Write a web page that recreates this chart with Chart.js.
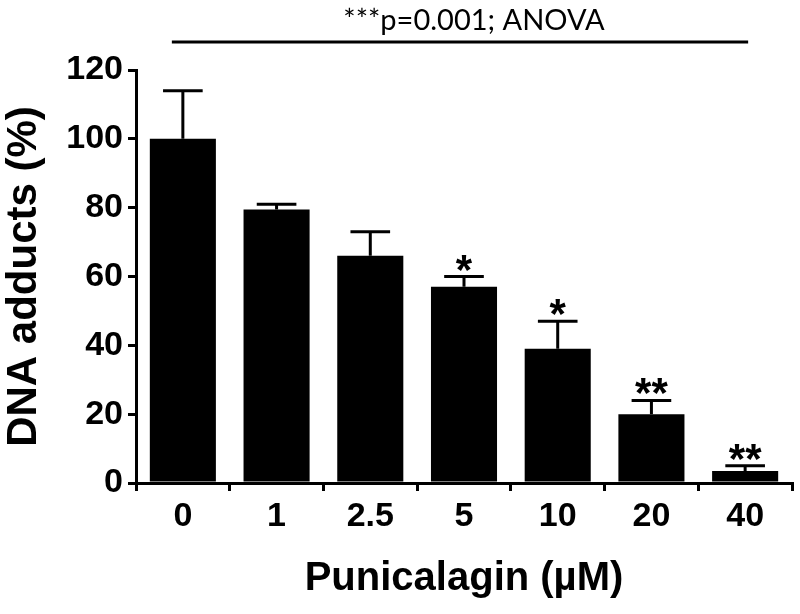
<!DOCTYPE html>
<html>
<head>
<meta charset="utf-8">
<script src="https://cdn.jsdelivr.net/npm/chart.js@4.4.1/dist/chart.umd.min.js"></script>
<style>
html, body { margin: 0; padding: 0; background: #fff; }
#wrap { width: 800px; height: 614px; }
</style>
</head>
<body>
<div id="wrap"><canvas id="grafico" width="800" height="614"></canvas></div>
<script>
var dosis = ['0', '1', '2.5', '5', '10', '20', '40'];
var aductos = [100, 79.5, 66, 57, 39, 20, 3.5];
var errores = [14, 1.5, 7, 3, 8, 4, 1.5];
var estrellas = ['', '', '', '*', '*', '**', '**'];
var textoAnova = '***p=0.001; ANOVA';

// barras de error, asteriscos y la linea del ANOVA
var extras = {
    id: 'extras',
    afterDatasetsDraw: function (chart) {
        var ctx = chart.ctx;
        var y = chart.scales.y;
        var x = chart.scales.x;
        var barras = chart.getDatasetMeta(0).data;
        ctx.save();
        ctx.strokeStyle = '#000';
        ctx.fillStyle = '#000';
        ctx.lineWidth = 3;
        barras.forEach(function (b, i) {
            var arriba = y.getPixelForValue(aductos[i] + errores[i]);
            var ancho = b.width * 0.3;
            ctx.beginPath();
            ctx.moveTo(b.x, b.y);
            ctx.lineTo(b.x, arriba);
            ctx.moveTo(b.x - ancho, arriba);
            ctx.lineTo(b.x + ancho, arriba);
            ctx.stroke();
            if (estrellas[i]) {
                ctx.font = 'bold 42px "Liberation Sans", Arial, sans-serif';
                ctx.textAlign = 'center';
                ctx.textBaseline = 'alphabetic';
                ctx.fillText(estrellas[i], b.x, arriba + 7);
            }
        });
        var x0 = x.getPixelForValue(0) - 11;
        var x1 = x.getPixelForValue(6) + 3;
        var lineaY = 42;
        ctx.beginPath();
        ctx.moveTo(x0, lineaY);
        ctx.lineTo(x1, lineaY);
        ctx.stroke();
        ctx.font = '29px Lato, "Open Sans", sans-serif';
        ctx.textAlign = 'center';
        ctx.textBaseline = 'alphabetic';
        ctx.fillText(textoAnova, (x0 + x1) / 2 + 14, 30);
        ctx.restore();
    }
};

var ctx = document.getElementById('grafico');
var myChart = new Chart(ctx, {
    type: 'bar',
    data: {
        labels: dosis,
        datasets: [{
            label: 'DNA adducts',
            data: aductos,
            backgroundColor: '#000',
            borderWidth: 0,
            barPercentage: 0.705,
            categoryPercentage: 1
        }]
    },
    options: {
        responsive: false,
        animation: false,
        layout: { padding: { top: 70, right: 8, left: 0, bottom: 0 } },
        plugins: {
            legend: { display: false },
            tooltip: { enabled: false }
        },
        scales: {
            x: {
                border: { display: true, color: '#000', width: 3 },
                grid: { drawOnChartArea: false, drawTicks: true, tickLength: 8, color: '#000', lineWidth: 3 },
                ticks: {
                    color: '#000',
                    padding: 5,
                    font: { family: '"Liberation Sans", Arial, sans-serif', size: 34, weight: 'bold' }
                },
                title: {
                    display: true,
                    text: 'Punicalagin (µM)',
                    color: '#000',
                    padding: { top: 0, bottom: 15 },
                    font: { family: '"Liberation Sans", Arial, sans-serif', size: 40, weight: 'bold', lineHeight: 1 }
                },
                afterFit: function (s) { s.height = 131; }
            },
            y: {
                min: 0,
                max: 120,
                border: { display: true, color: '#000', width: 3 },
                grid: { drawOnChartArea: false, drawTicks: true, tickLength: 8, color: '#000', lineWidth: 3 },
                ticks: {
                    stepSize: 20,
                    color: '#000',
                    padding: 5,
                    font: { family: '"Liberation Sans", Arial, sans-serif', size: 34, weight: 'bold' }
                },
                title: {
                    display: true,
                    text: 'DNA adducts (%)',
                    color: '#000',
                    padding: { top: 3, bottom: 0 },
                    font: { family: '"Liberation Sans", Arial, sans-serif', size: 42, weight: 'bold', lineHeight: 1 }
                },
                afterFit: function (s) { s.width = 136; }
            }
        }
    },
    plugins: [extras]
});
</script>
</body>
</html>
